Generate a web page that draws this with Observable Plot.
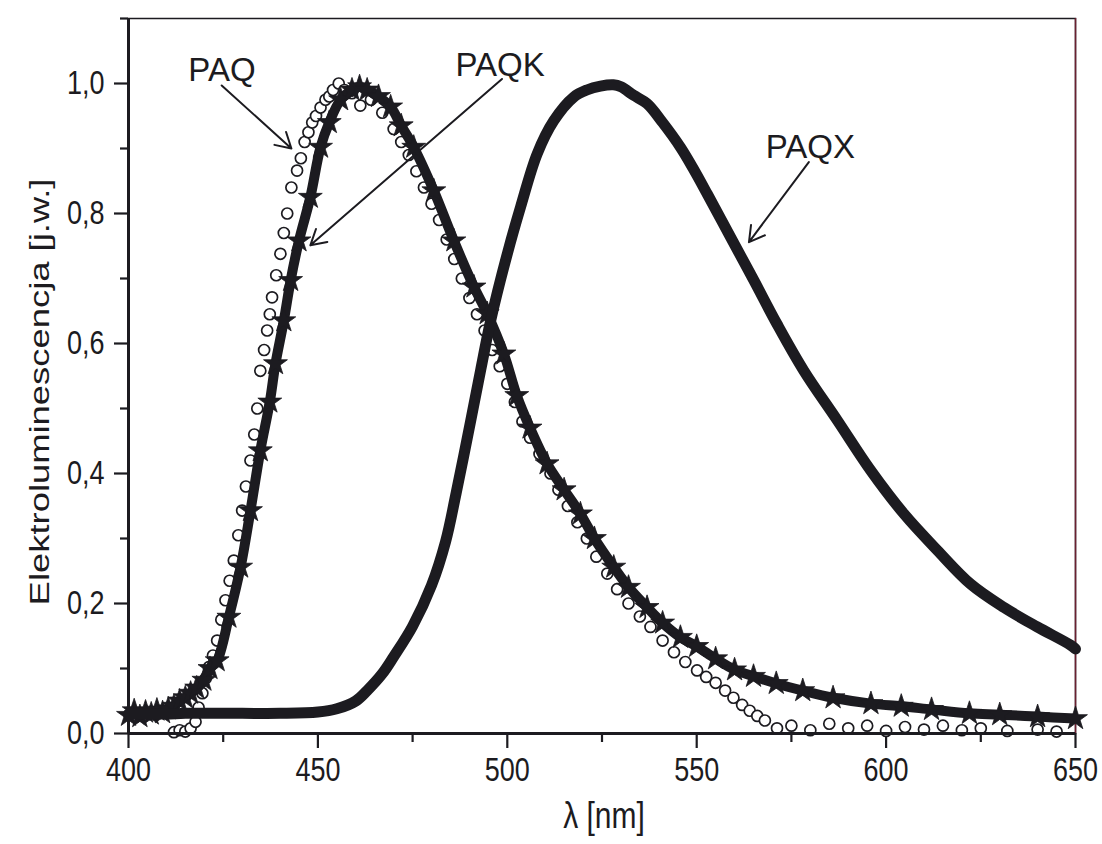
<!DOCTYPE html>
<html>
<head>
<meta charset="utf-8">
<script src="https://cdn.jsdelivr.net/npm/d3@7"></script>
<script src="https://cdn.jsdelivr.net/npm/@observablehq/plot@0.6"></script>
<style>
  html, body { margin: 0; padding: 0; background: #fff; }
  #chart { width: 1102px; height: 844px; }
</style>
</head>
<body>
<div id="chart"></div>
<script>
// ---- data ----
const paqxNm = [400,405,410,415,420,430,440,450,455,460,463,467,470,475,480,483.7,486.5,490.3,493,495.6,500,503.5,507.9,512.3,517.5,521,524.6,528,530,533.3,536.9,541,545.7,549,552.8,558.9,565.1,571.2,578.3,587.1,595.9,604.7,613.5,622.3,631.1,639.9,648.7,650];
const paqxEL = [0.030,0.030,0.030,0.031,0.031,0.031,0.031,0.033,0.038,0.050,0.066,0.092,0.118,0.165,0.228,0.295,0.37,0.48,0.56,0.635,0.738,0.81,0.892,0.943,0.979,0.99,0.996,0.998,0.995,0.982,0.969,0.94,0.902,0.87,0.83,0.764,0.697,0.630,0.558,0.482,0.405,0.338,0.282,0.23,0.194,0.164,0.136,0.13];

const paqkNm = [400,401.5,403,404.5,406,407.5,409,410.5,412,413.5,415,416.4,418,419.9,421.5,423.4,426.5,429.6,432.2,434.8,437.3,438.8,441,442.8,445,448,450.7,453,456,459,461,463,466,469.2,472,475.3,480.6,485.9,491.2,494.7,499.1,502.5,506,510.5,515,519.3,523,528.1,532,536.9,541,545.7,550,555,560,565,571,578,586,596,604,612,622,630,640,650];
const paqkEL = [0.028,0.035,0.026,0.033,0.030,0.036,0.032,0.038,0.042,0.050,0.055,0.062,0.070,0.082,0.100,0.112,0.179,0.256,0.343,0.435,0.51,0.569,0.635,0.697,0.758,0.825,0.902,0.94,0.975,0.99,0.995,0.99,0.98,0.964,0.935,0.902,0.835,0.758,0.687,0.646,0.584,0.52,0.47,0.415,0.375,0.338,0.30,0.256,0.225,0.194,0.17,0.148,0.134,0.115,0.098,0.088,0.077,0.066,0.055,0.046,0.042,0.037,0.031,0.029,0.026,0.023];

const paqNm = [412,413.5,415,416.4,417.7,418.5,419.5,420.4,421.2,422.3,423.4,424.5,425.6,426.7,427.8,429,430,431,432.2,433.2,434,434.8,435.8,436.6,437.3,437.9,439,440.1,441,441.9,443,444.5,445.5,446.5,447.5,448.5,449.5,450.7,452,453,454,455.5,457,459,461.2,464,467,470,472,474,476,478,480,482,484,486,488,490,492,494,496,498,500,502,504,506,508.5,511.4,513.5,516,518.5,521,523.5,526.4,529,532,535,537.8,541,544,547,550.1,552.5,555,557.5,559.7,562,564,566,568,571.2,575,580,585,590,595,600,605,610,615,620,625,632,640,645];
const paqEL = [0.002,0.005,0.003,0.008,0.018,0.04,0.062,0.085,0.102,0.12,0.143,0.175,0.205,0.235,0.266,0.305,0.343,0.38,0.42,0.46,0.50,0.558,0.59,0.62,0.645,0.671,0.705,0.738,0.77,0.80,0.84,0.866,0.885,0.91,0.925,0.94,0.95,0.963,0.975,0.98,0.99,1.0,0.99,0.985,0.966,0.975,0.955,0.93,0.91,0.89,0.865,0.84,0.815,0.79,0.76,0.73,0.70,0.67,0.645,0.62,0.59,0.565,0.538,0.51,0.48,0.455,0.43,0.40,0.375,0.35,0.325,0.30,0.272,0.246,0.222,0.20,0.18,0.164,0.143,0.125,0.11,0.097,0.087,0.078,0.066,0.055,0.044,0.035,0.027,0.02,0.008,0.012,0.005,0.015,0.008,0.012,0.004,0.01,0.006,0.012,0.005,0.008,0.004,0.006,0.003];

const labelNames = ["PAQ", "PAQK", "PAQX"];
const labelNm = [415.8, 486.3, 568.2];
const labelEL = [1.02, 1.028, 0.902];
const arrowFromNm = [424.6, 498.6, 579.6];
const arrowFromEL = [0.997, 1.007, 0.879];
const arrowToNm = [443.0, 448.0, 563.8];
const arrowToEL = [0.90, 0.751, 0.756];

const xMajorTicks = [400, 450, 500, 550, 600, 650];
const xMinorTicks = [425, 475, 525, 575, 625];
const yMajorTicks = [0, 0.2, 0.4, 0.6, 0.8, 1.0];
const yMinorTicks = [0.1, 0.3, 0.5, 0.7, 0.9, 1.1];
const xTitle = "λ [nm]";
const yTitle = "Elektroluminescencja [j.w.]";

// ---- build tables ----
const paqx = paqxNm.map((x, i) => ({x, y: paqxEL[i]}));
const paqk = paqkNm.map((x, i) => ({x, y: paqkEL[i]}));
const paq = paqNm.map((x, i) => ({x, y: paqEL[i]}));
const labels = labelNames.map((t, i) => ({t, x: labelNm[i], y: labelEL[i]}));
const arrows = labelNames.map((t, i) => ({x1: arrowFromNm[i], y1: arrowFromEL[i], x2: arrowToNm[i], y2: arrowToEL[i]}));

const fmt = d => d.toFixed(1).replace(".", ",");
const ink = "#1c1b20";
const font = "Liberation Sans, Arial, sans-serif";

const svg = Plot.plot({
  width: 1102,
  height: 844,
  marginLeft: 128,
  marginRight: 27,
  marginTop: 18,
  marginBottom: 111,
  style: {fontFamily: font, background: "white", color: ink},
  x: {domain: [400, 650], axis: null},
  y: {domain: [0, 1.1], axis: null},
  marks: [
    Plot.frame({stroke: ink, strokeWidth: 1.5}),
    Plot.ruleX([650], {stroke: "#6a2030", strokeWidth: 1.5}),
    Plot.axisX({ticks: xMinorTicks, tickSize: 9, tickFormat: () => "", strokeWidth: 2.2, stroke: ink}),
    Plot.axisX({ticks: xMajorTicks, tickSize: 15, tickPadding: 9, tickFormat: d => String(d), fontSize: 27, strokeWidth: 2.2, stroke: ink, fill: ink, label: null}),
    Plot.axisY({ticks: yMinorTicks, tickSize: 8, tickFormat: () => "", strokeWidth: 2.2, stroke: ink}),
    Plot.axisY({ticks: yMajorTicks, tickSize: 14, tickPadding: 10, tickFormat: fmt, fontSize: 27, strokeWidth: 2.2, stroke: ink, fill: ink, label: null}),
    Plot.text([yTitle], {frameAnchor: "left", textAnchor: "middle", dx: -88, dy: 16, rotate: -90, fontSize: 28, fill: ink, text: d => d}),
    Plot.text([xTitle], {frameAnchor: "bottom", textAnchor: "middle", dx: 2, dy: 94, fontSize: 30, fill: ink, text: d => d}),
    // PAQ: open circles
    Plot.dot(paq, {x: "x", y: "y", r: 5.5, stroke: ink, strokeWidth: 1.7, fill: "white"}),
    // PAQK: stars
    Plot.line(paqk, {x: "x", y: "y", stroke: ink, strokeWidth: 10, strokeLinejoin: "round", curve: "catmull-rom"}),
    Plot.dot(paqk, {x: "x", y: "y", symbol: "star", r: 7.5, fill: ink, stroke: ink, strokeWidth: 0.8}),
    // PAQX: thick line
    Plot.line(paqx, {x: "x", y: "y", stroke: ink, strokeWidth: 11, strokeLinejoin: "round", strokeLinecap: "round", curve: "catmull-rom"}),
    Plot.ruleX([400], {stroke: ink, strokeWidth: 3}),
    Plot.ruleY([0], {stroke: ink, strokeWidth: 3}),
    Plot.arrow(arrows, {x1: "x1", y1: "y1", x2: "x2", y2: "y2", stroke: ink, strokeWidth: 2, headLength: 13}),
    Plot.text(labels, {x: "x", y: "y", text: "t", textAnchor: "start", fontSize: 33, fill: ink})
  ]
});

// condensed look of the axis texts (taller than wide in the reference)
function stretch(el, sx, sy) {
  const tr = el.getAttribute("transform");
  if (tr) {
    el.setAttribute("transform", tr + ` scale(${sx},${sy})`);
  } else {
    const x = +el.getAttribute("x") || 0, y = +el.getAttribute("y") || 0;
    el.setAttribute("transform", `translate(${x},${y}) scale(${sx},${sy}) translate(${-x},${-y})`);
  }
}
svg.querySelectorAll('g[aria-label="x-axis tick label"] text, g[aria-label="y-axis tick label"] text').forEach(t => stretch(t, 1, 1.2));
svg.querySelectorAll('g[aria-label="text"] text').forEach(t => {
  if (t.textContent === yTitle) stretch(t, 1.3, 1);
  else if (t.textContent === xTitle) stretch(t, 1, 1.25);
});

document.getElementById("chart").appendChild(svg);
</script>
</body>
</html>
